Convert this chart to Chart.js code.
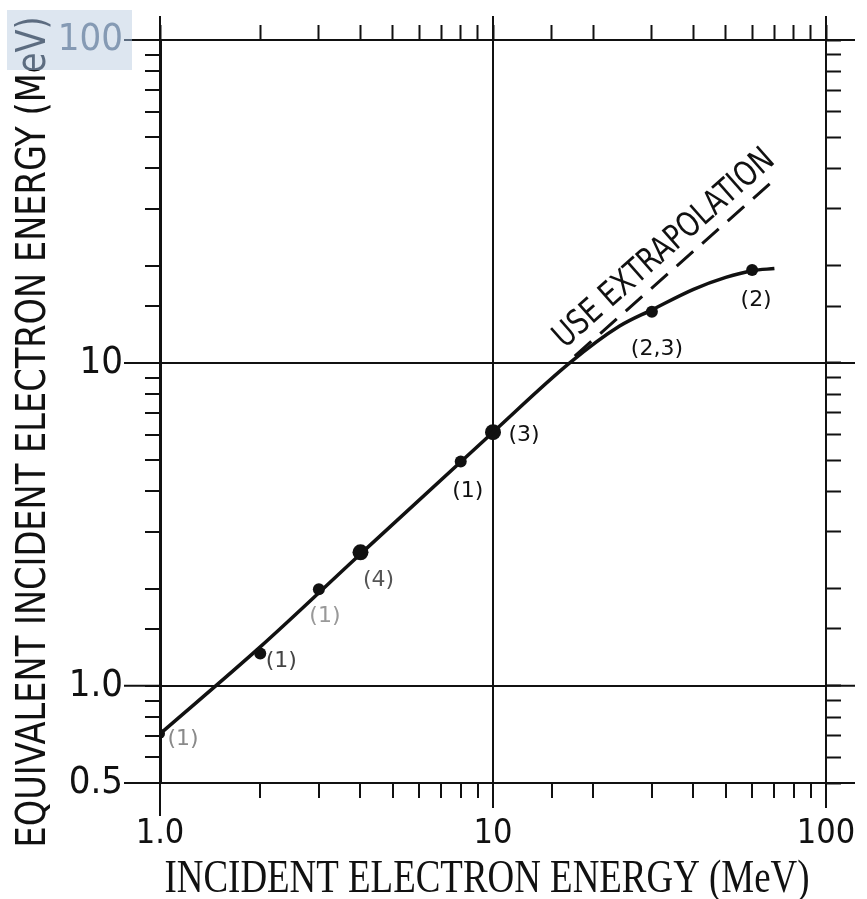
<!DOCTYPE html>
<html>
<head>
<meta charset="utf-8">
<script src="https://cdn.jsdelivr.net/npm/chart.js@4.4.1/dist/chart.umd.min.js"></script>
<style>
  html, body { margin: 0; padding: 0; background: #fff; }
  #wrap { width: 867px; height: 899px; }
</style>
</head>
<body>
<div id="wrap"><canvas id="c" width="867" height="899"></canvas></div>
<script>
// ── DATA ─────────────────────────────────────────────────────
const pointEnergy = [1, 2, 3, 4, 8, 10, 30, 60];
const pointEquiv  = [0.71, 1.26, 1.99, 2.59, 4.95, 6.1, 14.4, 19.4];
const pointRefs   = ['(1)', '(1)', '(1)', '(4)', '(1)', '(3)', '(2,3)', '(2)'];

// hand-drawn fit curve
const curveEnergy = [1, 2, 4, 10, 17, 24, 30, 40, 50, 60, 70];
const curveEquiv  = [0.71, 1.32, 2.56, 6.1, 10.0, 13.0, 14.6, 16.9, 18.4, 19.3, 19.6];

const extrapEnergy = [17.6, 67.9];
const extrapEquiv  = [10.5, 35.9];

const xTickValues = [1, 10, 100];
const xTickText   = ['1.0', '10', '100'];
const yTickValues = [0.5, 1, 10, 100];
const yTickText   = ['0.5', '1.0', '10', '100'];

// ── LOOK ─────────────────────────────────────────────────────
const INK = '#111';
const TICK_FONT = "'DejaVu Sans Condensed', 'DejaVu Sans', sans-serif";
const markRadius = [5, 6, 6, 8, 6, 8, 6, 6];
const refOffset  = [[23, 5], [21, 8], [6, 27], [18, 28], [7, 30], [31, 3], [5, 38], [4, 30]];
const refColor   = ['#8a8a8a', '#444', '#999', '#555', INK, INK, INK, INK];

function labelFor(values, texts, v) {
  const i = values.findIndex(t => Math.abs(t - v) < 1e-9);
  return i >= 0 ? texts[i] : '';
}
function isMajor(values, v) {
  return values.some(t => Math.abs(t - v) < 1e-9);
}

function fitText(ctx, text, x, y, angle, font, width, color) {
  ctx.save();
  ctx.font = font;
  const w = ctx.measureText(text).width;
  ctx.translate(x, y);
  ctx.rotate(angle);
  ctx.scale(width / w, 1);
  ctx.fillStyle = color;
  ctx.textAlign = 'center';
  ctx.textBaseline = 'alphabetic';
  ctx.fillText(text, 0, 0);
  ctx.restore();
}

// fixed box sizes so the plot frame lands where the original has it
function fixSize(prop, size) {
  return s => {
    s[prop] = size;
    s.paddingTop = s.paddingBottom = s.paddingLeft = s.paddingRight = 0;
  };
}

// ── PLUGINS ──────────────────────────────────────────────────
const paperPlugin = {
  id: 'paper',
  beforeDraw(chart) {
    const ctx = chart.ctx;
    ctx.save();
    ctx.fillStyle = '#fff';
    ctx.fillRect(0, 0, chart.width, chart.height);
    ctx.restore();
  },
  afterDraw(chart) {
    const ctx = chart.ctx;
    const a = chart.chartArea;
    const xs = chart.scales.x, ys = chart.scales.y;

    // major lines run a little past the frame
    ctx.save();
    ctx.strokeStyle = INK;
    ctx.lineWidth = 2;
    xTickValues.forEach(v => {
      const px = xs.getPixelForValue(v);
      ctx.beginPath();
      ctx.moveTo(px, a.top - 24); ctx.lineTo(px, a.top);
      ctx.moveTo(px, a.bottom); ctx.lineTo(px, a.bottom + (v === 1 ? 33 : 25));
      ctx.stroke();
    });
    yTickValues.forEach(v => {
      const py = ys.getPixelForValue(v);
      ctx.beginPath();
      ctx.moveTo(a.left - 36, py); ctx.lineTo(a.left, py);
      ctx.moveTo(a.right, py); ctx.lineTo(a.right + 29, py);
      ctx.stroke();
    });
    ctx.restore();

    // point references
    ctx.save();
    ctx.font = "22px 'DejaVu Sans', sans-serif";
    ctx.textAlign = 'center';
    ctx.textBaseline = 'middle';
    pointEnergy.forEach((e, i) => {
      const px = xs.getPixelForValue(e) + refOffset[i][0];
      const py = ys.getPixelForValue(pointEquiv[i]) + refOffset[i][1];
      ctx.fillStyle = refColor[i];
      ctx.fillText(pointRefs[i], px, py);
    });
    ctx.restore();

    // extrapolation note, parallel to the dashed line
    const x0 = xs.getPixelForValue(extrapEnergy[0]), y0 = ys.getPixelForValue(extrapEquiv[0]);
    const x1 = xs.getPixelForValue(extrapEnergy[1]), y1 = ys.getPixelForValue(extrapEquiv[1]);
    const ang = Math.atan2(y1 - y0, x1 - x0);
    const nx = Math.sin(ang), ny = -Math.cos(ang);
    const mx = (x0 + x1) / 2 + nx * 12 + 8 * Math.cos(ang);
    const my = (y0 + y1) / 2 + ny * 12 + 8 * Math.sin(ang);
    fitText(ctx, 'USE EXTRAPOLATION', mx, my, ang, "34px 'DejaVu Sans', sans-serif", 282, INK);

    // axis titles
    fitText(ctx, 'EQUIVALENT INCIDENT ELECTRON ENERGY (MeV)', 45, 432, -Math.PI / 2,
            "41px 'DejaVu Sans', sans-serif", 831, INK);
    fitText(ctx, 'INCIDENT ELECTRON ENERGY (MeV)', 487, 892, 0,
            "47px 'Liberation Serif', serif", 645, INK);

    // pale blue patch over the top-left corner
    ctx.save();
    ctx.globalCompositeOperation = 'screen';
    ctx.fillStyle = '#5f6e80';
    ctx.fillRect(7, 10, 125, 60);
    ctx.globalCompositeOperation = 'multiply';
    ctx.fillStyle = '#dde6f0';
    ctx.fillRect(7, 10, 125, 60);
    ctx.restore();
  }
};

// ── CHART ────────────────────────────────────────────────────
const frameGrid = (values) => ({
  color: c => (c.tick && isMajor(values, c.tick.value) ? INK : 'rgba(0,0,0,0)'),
  lineWidth: 2,
  tickColor: INK,
  tickLength: 15,
  tickWidth: 2,
});

new Chart(document.getElementById('c'), {
  type: 'scatter',
  data: {
    datasets: [
      {
        data: curveEnergy.map((e, i) => ({ x: e, y: curveEquiv[i] })),
        showLine: true,
        borderColor: INK,
        borderWidth: 3.5,
        pointRadius: 0,
        cubicInterpolationMode: 'monotone',
      },
      {
        data: extrapEnergy.map((e, i) => ({ x: e, y: extrapEquiv[i] })),
        showLine: true,
        borderColor: INK,
        borderWidth: 3,
        borderDash: [22, 12],
        pointRadius: 0,
      },
      {
        data: pointEnergy.map((e, i) => ({ x: e, y: pointEquiv[i] })),
        showLine: false,
        pointRadius: markRadius,
        pointBackgroundColor: INK,
        pointBorderColor: INK,
        pointBorderWidth: 0,
      },
    ],
  },
  options: {
    responsive: false,
    animation: false,
    layout: { padding: 0 },
    plugins: { legend: { display: false }, tooltip: { enabled: false } },
    scales: {
      x: {
        type: 'logarithmic', position: 'bottom', min: 1, max: 100,
        afterFit: fixSize('height', 116),
        grid: frameGrid([10]),
        border: { color: INK, width: 2 },
        ticks: {
          autoSkip: false, maxRotation: 0, padding: 16, color: INK,
          font: { family: TICK_FONT, size: 34 },
          callback: v => labelFor(xTickValues, xTickText, v),
        },
      },
      xTop: {
        type: 'logarithmic', position: 'top', min: 1, max: 100,
        afterFit: fixSize('height', 40),
        grid: { drawOnChartArea: false, tickColor: INK, tickLength: 15, tickWidth: 2 },
        border: { color: INK, width: 2 },
        ticks: { autoSkip: false, maxRotation: 0, callback: () => '' },
      },
      y: {
        type: 'logarithmic', position: 'left', min: 0.5, max: 100,
        afterFit: fixSize('width', 160),
        grid: frameGrid([1, 10]),
        border: { color: INK, width: 3 },
        ticks: {
          autoSkip: false, padding: 22,
          color: c => (c.tick && c.tick.value === 100 ? '#5d6c7e' : INK),
          font: { family: TICK_FONT, size: 38 },
          callback: v => labelFor(yTickValues, yTickText, v),
        },
      },
      yRight: {
        type: 'logarithmic', position: 'right', min: 0.5, max: 100,
        afterFit: fixSize('width', 41),
        grid: { drawOnChartArea: false, tickColor: INK, tickLength: 15, tickWidth: 2 },
        border: { color: INK, width: 2 },
        ticks: { autoSkip: false, callback: () => '' },
      },
    },
  },
  plugins: [paperPlugin],
});
</script>
</body>
</html>
